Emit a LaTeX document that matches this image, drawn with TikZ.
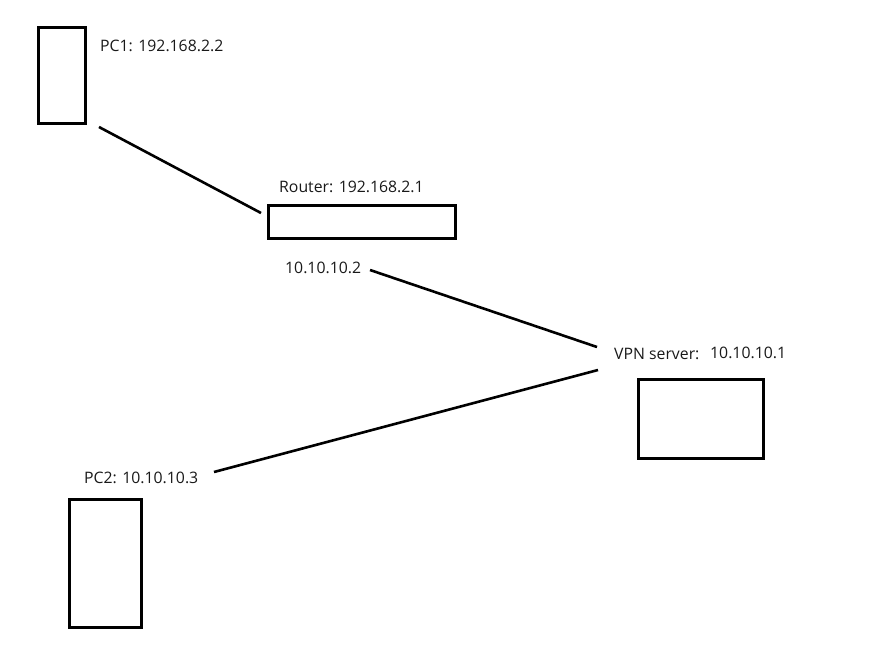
\documentclass[tikz,border=0pt]{standalone}
\usepackage{fontspec}
\setmainfont{Open Sans}
\begin{document}
\begin{tikzpicture}[x=1pt,y=-1pt,
  dev/.style={draw=black,line width=3pt,minimum width=#1,inner sep=0pt},
  lbl/.style={anchor=west,inner sep=0pt,font=\fontsize{15.8pt}{18pt}\selectfont,text=black!90},
  wire/.style={line width=2.6pt}]
\useasboundingbox (0,0) rectangle (870,652);
\node[dev=47pt,minimum height=96pt] (pc1) at (62,75.5) {};
\node[dev=187pt,minimum height=33pt] (router) at (361.5,222.5) {};
\node[dev=125pt,minimum height=79pt] (vpn) at (700.5,418.5) {};
\node[dev=72pt,minimum height=128pt] (pc2) at (105,563) {};
\node[lbl] (l1) at (100,46) {PC1: 192.168.2.2};
\node[lbl] (l2) at (279,187) {Router: 192.168.2.1};
\node[lbl] (l3) at (285,268) {10.10.10.2};
\node[lbl] (l4) at (614,354) {VPN server:};
\node[lbl] (l5) at (710,353) {10.10.10.1};
\node[lbl] (l6) at (84,478) {PC2: 10.10.10.3};
\coordinate (a1) at (99,127);
\coordinate (a2) at (261,213);
\coordinate (b1) at (370,270);
\coordinate (b2) at (597,347);
\coordinate (c1) at (598,370);
\coordinate (c2) at (214,472);
\draw[wire] (a1) -- (a2);
\draw[wire] (b1) -- (b2);
\draw[wire] (c1) -- (c2);
\end{tikzpicture}
\end{document}
